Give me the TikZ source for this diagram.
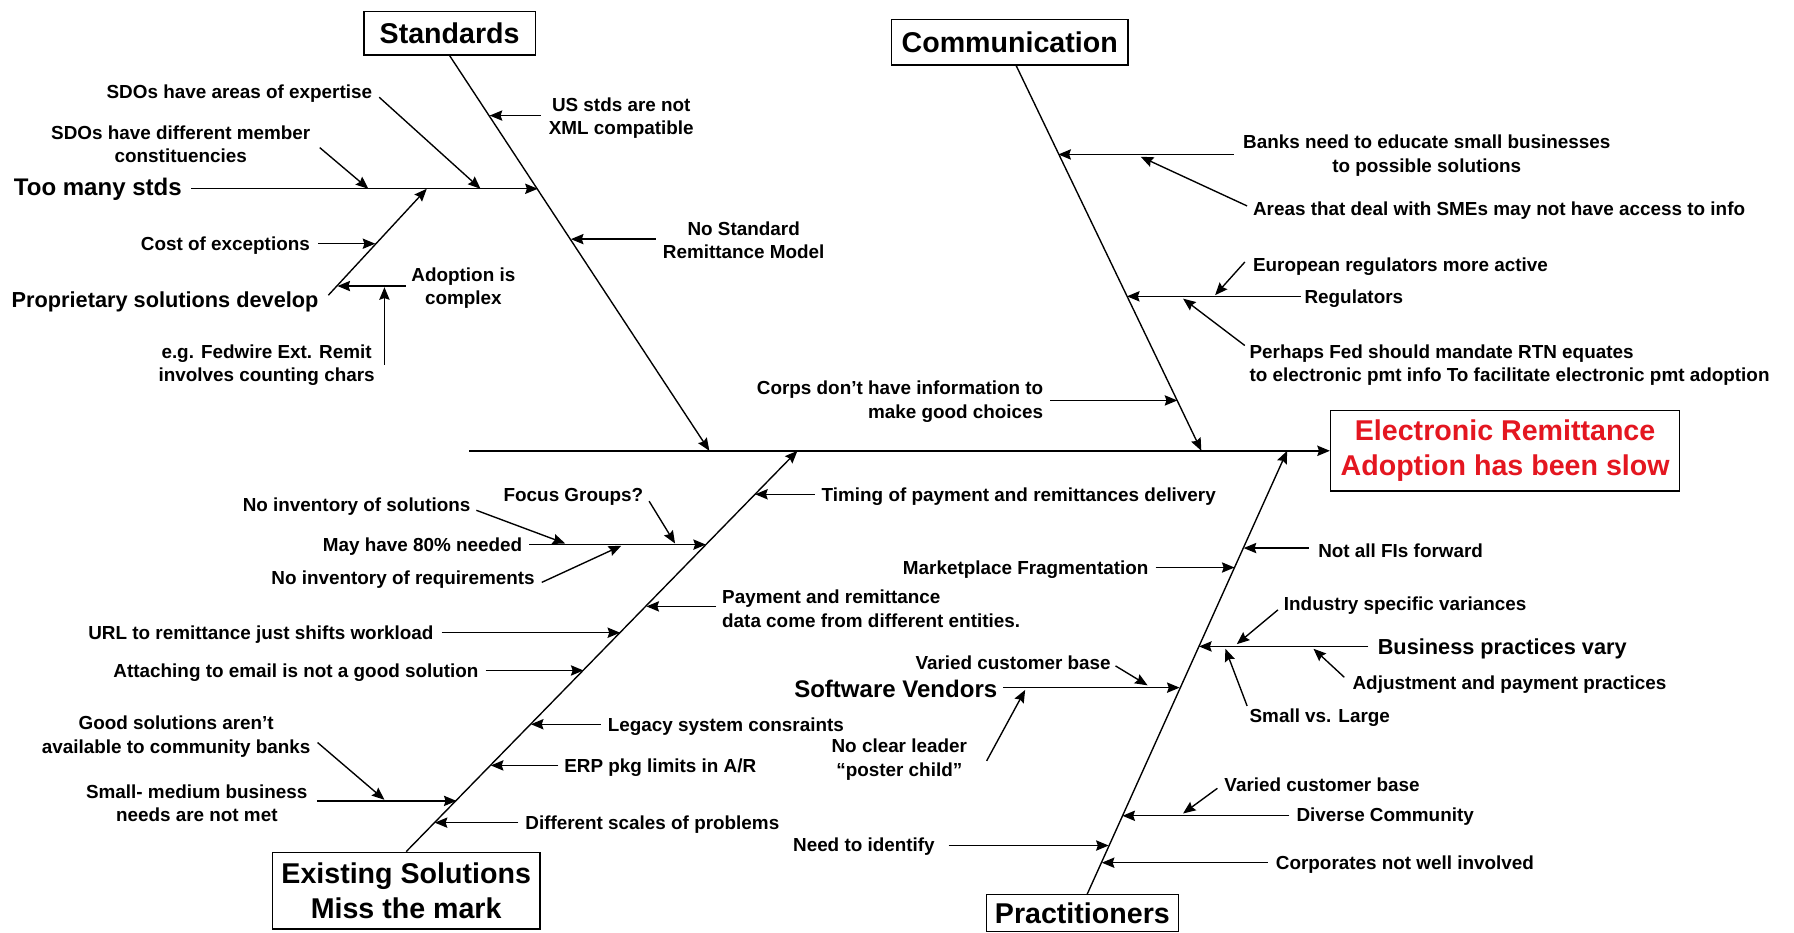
\documentclass[tikz,border=0pt]{standalone}
\usepackage{fontspec}
\setmainfont{Liberation Sans}
\usetikzlibrary{arrows.meta,calc}
\definecolor{effred}{RGB}{228,22,32}
\tikzset{
 lab/.style={inner sep=0pt, yshift=-2pt, font=\bfseries\fontsize{16.5}{20.5}\selectfont, align=center},
 big/.style={lab, font=\bfseries\fontsize{21}{25}\selectfont},
 mid/.style={lab, font=\bfseries\fontsize{19}{23}\selectfont},
 cat/.style={draw, line width=1.3pt, inner sep=0pt, font=\bfseries\fontsize{25}{31}\selectfont, align=center},
 arr/.style={line width=1.2pt, -{Stealth[length=11pt,width=9pt,inset=1.5pt]}},
}
\begin{document}
\begin{tikzpicture}[x=1pt,y=-1pt]
\useasboundingbox (0,0) rectangle (1568,815);
\fill[white] (0,0) rectangle (1568,815);

% effect and spine
\node[cat, text=effred, minimum width=305, minimum height=70] (eff) at (1315.5,394) {Electronic Remittance\\Adoption has been slow};
\coordinate (sp0) at (410,394);
\draw[arr, line width=1.5pt] (sp0) -- (eff.west);

% ---------- Standards ----------
\node[cat, minimum width=150, minimum height=38] (std) at (393,29) {Standards};
\coordinate (stdE) at (620,394);
\draw[arr] (std.south) -- (stdE);

\node[lab] (us) at (543,101) {US stds are not\\XML compatible};
\coordinate (tUS) at (428,101);
\draw[arr] ($(us.west |- tUS)+(-7,0)$) -- (tUS);

\node[big, anchor=west] (tm) at (12,163) {Too many stds};
\coordinate (tmE) at (470,165);
\draw[arr] ($(tm.east |- tmE)+(8,0)$) -- (tmE);

\node[lab, anchor=west] (sd1) at (93,80) {SDOs have areas of expertise};
\coordinate (tSD1) at (420,165);
\draw[arr] ($(sd1.east)+(6,3)$) -- (tSD1);

\node[lab] (sd2) at (158,124) {SDOs have different member\\constituencies};
\coordinate (tSD2) at (322,165);
\draw[arr] ($(sd2.east)+(8,3)$) -- (tSD2);

\node[mid, anchor=west] (prop) at (10,262) {Proprietary solutions develop};
\coordinate (prS) at (287,258);
\coordinate (prT) at (373,165);
\draw[arr] (prS) -- (prT);

\node[lab, anchor=west] (coe) at (123,213) {Cost of exceptions};
\coordinate (tCOE) at (328,213);
\draw[arr] ($(coe.east |- tCOE)+(7,0)$) -- (tCOE);

\node[lab] (adop) at (405,250) {Adoption is\\complex};
\coordinate (tAD) at (295,250);
\draw[arr] ($(adop.west |- tAD)+(-5,0)$) -- (tAD);

\node[lab] (eg) at (233,317) {e.g. Fedwire Ext. Remit\\involves counting chars};
\coordinate (tEG) at (336,251);
\draw[arr] (tEG |- eg.east) -- (tEG);

\node[lab] (nsr) at (650,208) {No Standard\\Remittance Model};
\coordinate (tNSR) at (499,209);
\draw[arr] ($(nsr.west |- tNSR)+(-6,0)$) -- (tNSR);

% ---------- Communication ----------
\node[cat, minimum width=207, minimum height=40] (com) at (882.5,37) {Communication};
\coordinate (cS) at (888,57);
\coordinate (cE) at (1050,394);
\draw[arr] (cS) -- (cE);

\node[lab] (banks) at (1247,134) {Banks need to educate small businesses\\to possible solutions};
\coordinate (tBK) at (925,135);
\draw[arr] ($(banks.west |- tBK)+(-8,0)$) -- (tBK);

\node[lab, anchor=west] (areas) at (1095,182) {Areas that deal with SMEs may not have access to info};
\coordinate (tAR) at (997,137);
\draw[arr] ($(areas.west)+(-5,-4)$) -- (tAR);

\node[lab, anchor=west] (eur) at (1095,231) {European regulators more active};
\coordinate (tEU) at (1062,258);
\draw[arr] ($(eur.west)+(-7,-4)$) -- (tEU);

\node[lab, anchor=west] (reg) at (1140,259) {Regulators};
\coordinate (tRG) at (985,259);
\draw[arr] ($(reg.west |- tRG)+(-3,0)$) -- (tRG);

\node[lab, align=left, anchor=west] (perh) at (1092,317) {Perhaps Fed should mandate RTN equates\\to electronic pmt info To facilitate electronic pmt adoption};
\coordinate (tPF) at (1034,261);
\draw[arr] ($(perh.west)+(-4,-17)$) -- (tPF);

\node[lab, align=right, anchor=east] (corps) at (912,349) {Corps don't have information to\\make good choices};
\coordinate (tCP) at (1029,350);
\draw[arr] ($(corps.east |- tCP)+(6,0)$) -- (tCP);

% ---------- Existing Solutions ----------
\node[cat, minimum width=234, minimum height=67] (ex) at (355,778.5) {Existing Solutions\\Miss the mark};
\coordinate (eE) at (697,394);
\draw[arr] (ex.north) -- (eE);

\node[lab, anchor=west] (tim) at (718,432) {Timing of payment and remittances delivery};
\coordinate (tTM) at (660,432);
\draw[arr] ($(tim.west |- tTM)+(-6,0)$) -- (tTM);

\node[lab, anchor=west] (may) at (282,476) {May have 80\% needed};
\coordinate (tMY) at (617,476);
\draw[arr] ($(may.east |- tMY)+(6,0)$) -- (tMY);

\node[lab, anchor=west] (noinv) at (212,441) {No inventory of solutions};
\coordinate (tNI) at (494,475);
\draw[arr] ($(noinv.east)+(5,3)$) -- (tNI);

\node[lab, anchor=west] (noreq) at (237,505) {No inventory of requirements};
\coordinate (tNR) at (543,477);
\draw[arr] ($(noreq.east)+(6,2)$) -- (tNR);

\node[lab, anchor=west] (focus) at (440,432) {Focus Groups?};
\coordinate (tFG) at (590,475);
\draw[arr] ($(focus.east)+(5,4)$) -- (tFG);

\node[lab, align=left, anchor=west] (pay) at (631,530) {Payment and remittance\\data come from different entities.};
\coordinate (tPY) at (565,530);
\draw[arr] ($(pay.west |- tPY)+(-5,0)$) -- (tPY);

\node[lab, anchor=west] (url) at (77,553) {URL to remittance just shifts workload};
\coordinate (tUR) at (542,553);
\draw[arr] ($(url.east |- tUR)+(7,0)$) -- (tUR);

\node[lab, anchor=west] (att) at (99,586) {Attaching to email is not a good solution};
\coordinate (tAT) at (510,586);
\draw[arr] ($(att.east |- tAT)+(6,0)$) -- (tAT);

\node[lab, anchor=west] (leg) at (531,633) {Legacy system consraints};
\coordinate (tLG) at (464,633);
\draw[arr] ($(leg.west |- tLG)+(-6,0)$) -- (tLG);

\node[lab, anchor=west] (erp) at (493,669) {ERP pkg limits in A/R};
\coordinate (tER) at (429,669);
\draw[arr] ($(erp.west |- tER)+(-5,0)$) -- (tER);

\node[lab, anchor=west] (dif) at (459,719) {Different scales of problems};
\coordinate (tDF) at (380,719);
\draw[arr] ($(dif.west |- tDF)+(-6,0)$) -- (tDF);

\node[lab] (smb) at (172,700) {Small- medium business\\needs are not met};
\coordinate (tSM) at (399,700);
\draw[arr] ($(smb.east |- tSM)+(8,0)$) -- (tSM);

\node[lab] (good) at (154,642) {Good solutions aren't\\available to community banks};
\coordinate (tGD) at (336,699);
\draw[arr] ($(good.east)+(6,5)$) -- (tGD);

% ---------- Practitioners ----------
\node[cat, minimum width=168, minimum height=32] (pr) at (946,798) {Practitioners};
\coordinate (prA) at (950,782);
\coordinate (prB) at (1125,394);
\draw[arr] (prA) -- (prB);

\node[lab, anchor=west] (nfi) at (1152,479) {Not all FIs forward};
\coordinate (tNF) at (1087,479);
\draw[arr] ($(nfi.west |- tNF)+(-8,0)$) -- (tNF);

\node[lab, anchor=west] (mkt) at (789,496) {Marketplace Fragmentation};
\coordinate (tMK) at (1079,496);
\draw[arr] ($(mkt.east |- tMK)+(6,0)$) -- (tMK);

\node[mid, anchor=west] (bpv) at (1204,565) {Business practices vary};
\coordinate (tBP) at (1048,565);
\draw[arr] ($(bpv.west |- tBP)+(-8,0)$) -- (tBP);

\node[lab, anchor=west] (ind) at (1122,527) {Industry specific variances};
\coordinate (tIN) at (1081,563);
\draw[arr] ($(ind.west)+(-5,4)$) -- (tIN);

\node[lab, anchor=west] (adj) at (1182,596) {Adjustment and payment practices};
\coordinate (tAJ) at (1148,567);
\draw[arr] ($(adj.west)+(-7,-6)$) -- (tAJ);

\node[lab, anchor=west] (svl) at (1092,625) {Small vs. Large};
\coordinate (tSL) at (1071,567);
\draw[arr] ($(svl.west)+(-2,-10)$) -- (tSL);

\node[big, anchor=west] (sv) at (694,600) {Software Vendors};
\coordinate (tSV) at (1031,601);
\draw[arr] ($(sv.east |- tSV)+(5,0)$) -- (tSV);

\node[lab, anchor=west] (vcb1) at (800,577) {Varied customer base};
\coordinate (tV1) at (1003,599);
\draw[arr] ($(vcb1.east)+(4,3)$) -- (tV1);

\node[lab] (ncl) at (786,662) {No clear leader\\``poster child''};
\coordinate (tNC) at (896,603);
\draw[arr] ($(ncl.east)+(17,1)$) -- (tNC);

\node[lab, anchor=west] (vcb2) at (1070,684) {Varied customer base};
\coordinate (tV2) at (1034,711);
\draw[arr] ($(vcb2.west)+(-6,3)$) -- (tV2);

\node[lab, anchor=west] (div) at (1133,712) {Diverse Community};
\coordinate (tDV) at (981,713);
\draw[arr] ($(div.west |- tDV)+(-6,0)$) -- (tDV);

\node[lab, anchor=west] (need) at (693,738) {Need to identify};
\coordinate (tND) at (969,739);
\draw[arr] ($(need.east |- tND)+(12,0)$) -- (tND);

\node[lab, anchor=west] (corp) at (1115,754) {Corporates not well involved};
\coordinate (tCR) at (963,754);
\draw[arr] ($(corp.west |- tCR)+(-7,0)$) -- (tCR);
\end{tikzpicture}
\end{document}
